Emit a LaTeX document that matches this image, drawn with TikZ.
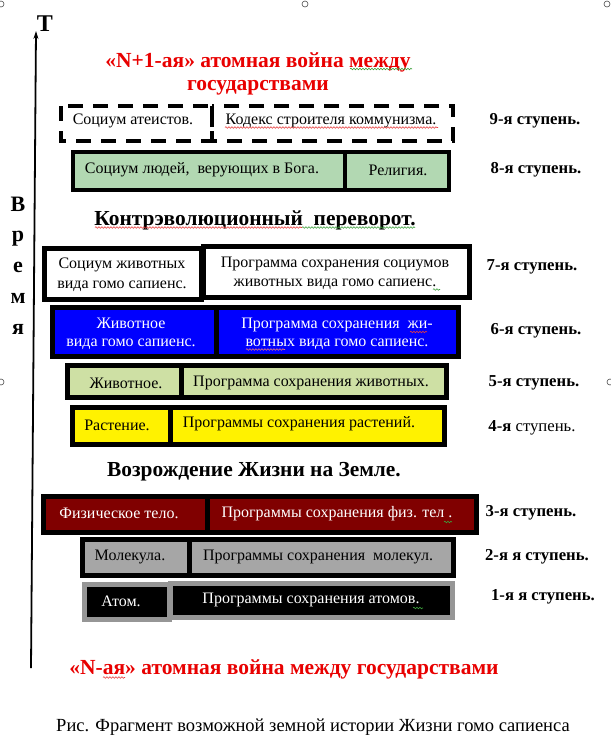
\documentclass[tikz,border=0pt]{standalone}
\usepackage{fontspec}
\setmainfont{Liberation Serif}
\usetikzlibrary{arrows.meta,decorations.pathmorphing}
\definecolor{grn8}{RGB}{178,216,178}
\definecolor{grn5}{RGB}{206,224,164}
\definecolor{dred}{RGB}{128,0,0}
\definecolor{gry2}{RGB}{166,166,166}
\definecolor{gry1}{RGB}{150,150,150}
\definecolor{redt}{RGB}{232,0,0}
\definecolor{spred}{RGB}{230,60,60}
\definecolor{spgrn}{RGB}{60,160,60}
\begin{document}
\begin{tikzpicture}[x=1pt,y=-1pt,
  boxtxt/.style={font=\fontsize{16}{18}\selectfont, inner sep=0pt, align=center},
  steplbl/.style={font=\fontsize{16.7}{18}\selectfont\bfseries, inner sep=0pt},
  heading/.style={font=\fontsize{21.4}{24}\selectfont\bfseries, inner sep=0pt},
  redhead/.style={font=\fontsize{21.5}{23}\selectfont\bfseries, text=redt, inner sep=0pt, align=center},
  vletter/.style={font=\fontsize{22}{24}\selectfont\bfseries, inner sep=0pt, anchor=base},
  frm/.style={line width=5pt, draw=black},
  handle/.style={draw=black!70, line width=0.6pt, fill=white},
  squig/.style={line width=0.6pt, decorate, decoration={snake, amplitude=0.8pt, segment length=3pt}},
  dashbox/.style={line width=3.8pt, dash pattern=on 15pt off 10pt}
]
\useasboundingbox (0,0) rectangle (611,748);

% selection handles
\draw[handle] (1,4) circle (3); \draw[handle] (305,4) circle (3); \draw[handle] (607,4) circle (3);
\draw[handle] (1,382) circle (3); \draw[handle] (610,382) circle (3);

% time axis
\coordinate (tb) at (31,668);
\coordinate (tt) at (36,31);
\draw[line width=1.8pt, -{Stealth[length=8pt,width=5pt]}] (tb) -- (tt);
\node[font=\fontsize{24}{26}\selectfont\bfseries, inner sep=0pt] (T) at (45,24) {T};
\node[vletter] (v1) at (18,211) {В};
\node[vletter] (v2) at (18,241) {р};
\node[vletter] (v3) at (18,272) {е};
\node[vletter] (v4) at (18,303) {м};
\node[vletter] (v5) at (18,334) {я};

% top red title
\node[redhead] (war1) at (258,73.5) {«N+1-ая» атомная война между\\государствами};
\draw[squig, spgrn] (350,69) -- (412,69);

% row 9 (dashed)
\draw[dashbox] (61,106) rectangle (212,141);
\draw[dashbox] (212,106) rectangle (453,141);
\node[boxtxt] (t9a) at (133,121) {Социум атеистов.};
\node[boxtxt] (t9b) at (331,121) {Кодекс строителя коммунизма.};
\draw[squig, spred] (225,127.5) -- (438,127.5);
\node[steplbl] (s9) at (535,121) {9-я ступень.};

% row 8
\draw[line width=4pt, fill=grn8] (73,152) rectangle (345,190);
\draw[line width=4pt, fill=grn8] (345,152) rectangle (449,190);
\node[boxtxt] (t8a) at (202,170) {Социум людей,\ \ верующих в Бога.};
\node[boxtxt] (t8b) at (398,170) {Религия.};
\node[steplbl] (s8) at (536,170) {8-я ступень.};

\node[heading] (h1) at (255,220) {Контрэволюционный\ \ переворот.};
\draw[squig, spred] (95,227.5) -- (302,227.5);
\draw[squig, spgrn] (302,227.5) -- (415,227.5);

% row 7
\draw[frm, fill=white] (44.5,248.5) rectangle (201.5,299.5);
\draw[frm, fill=white] (203.5,246.5) rectangle (469.5,297.5);
\node[boxtxt, font=\fontsize{16}{20}\selectfont] (t7a) at (122,275) {Социум животных\\вида гомо сапиенс.};
\node[boxtxt, font=\fontsize{16}{19}\selectfont] (t7b) at (335,273.5) {Программа сохранения социумов\\животных вида гомо сапиенс.};
\draw[squig, spgrn] (433,289.5) -- (440,289.5);
\node[steplbl] (s7) at (532,267) {7-я ступень.};

% row 6
\draw[frm, fill=blue] (52.5,307.5) rectangle (216,356.5);
\draw[frm, fill=blue] (216,307.5) rectangle (458.5,356.5);
\node[boxtxt, text=white] (t6a) at (131,334) {Животное\\вида гомо сапиенс.};
\node[boxtxt, text=white] (t6b) at (337,334) {Программа сохранения\ \ жи-\\вотных вида гомо сапиенс.};
\draw[squig, spred] (410,332) -- (427,332);
\draw[squig, spred!70] (246,349.5) -- (285,349.5);
\node[steplbl] (s6) at (536,331) {6-я ступень.};

% row 5
\draw[frm, fill=grn5] (67.5,365.5) rectangle (181,397.5);
\draw[frm, fill=grn5] (181,365.5) rectangle (446.5,397.5);
\node[boxtxt] (t5a) at (126,383) {Животное.};
\node[boxtxt] (t5b) at (311,383) {Программа сохранения животных.};
\node[steplbl] (s5) at (534,383) {5-я ступень.};

% row 4
\draw[frm, fill=yellow] (72.5,407.5) rectangle (170,444.5);
\draw[frm, fill=yellow] (170,407.5) rectangle (444.5,444.5);
\node[boxtxt] (t4a) at (117,425) {Растение.};
\node[boxtxt] (t4b) at (299,424) {Программы сохранения растений.};
\node[boxtxt, font=\fontsize{16.7}{18}\selectfont] (s4) at (532,428) {\textbf{4-я} ступень.};

\node[heading] (h2) at (254,472) {Возрождение Жизни на Земле.};

% row 3
\draw[frm, fill=dred] (43.5,496.5) rectangle (207,532.5);
\draw[frm, fill=dred] (207,496.5) rectangle (476.5,532.5);
\node[boxtxt, text=white] (t3a) at (119,513) {Физическое тело.};
\node[boxtxt, text=white] (t3b) at (337,514) {Программы сохранения физ. тел .};
\draw[squig, spgrn] (444,522) -- (452,522);
\node[steplbl] (s3) at (531,513) {3-я ступень.};

% row 2
\draw[frm, fill=gry2] (82.5,539.5) rectangle (189,575.5);
\draw[frm, fill=gry2] (189,539.5) rectangle (453.5,575.5);
\node[boxtxt] (t2a) at (130,557) {Молекула.};
\node[boxtxt] (t2b) at (318,557) {Программы сохранения\ \ молекул.};
\node[steplbl] (s2) at (537,557) {2-я я ступень.};

% row 1
\draw[frm, draw=gry1, fill=black] (84.5,584.5) rectangle (169.5,619.5);
\draw[frm, draw=gry1, fill=black] (170.5,583.5) rectangle (452.5,617.5);
\node[boxtxt, text=white] (t1a) at (121,601) {Атом.};
\node[boxtxt, text=white] (t1b) at (311,600) {Программы сохранения атомов.};
\draw[squig, spgrn] (413,608) -- (423,608);
\node[steplbl] (s1) at (543,597) {1-я я ступень.};

% bottom red title
\node[redhead] (war0) at (284,669) {«N-ая» атомная война между государствами};
\draw[squig, spred] (103,677.5) -- (125,677.5);

% caption
\node[font=\fontsize{18.5}{20}\selectfont, inner sep=0pt] (cap) at (313,727) {Рис. Фрагмент возможной земной истории Жизни гомо сапиенса};
\end{tikzpicture}
\end{document}
